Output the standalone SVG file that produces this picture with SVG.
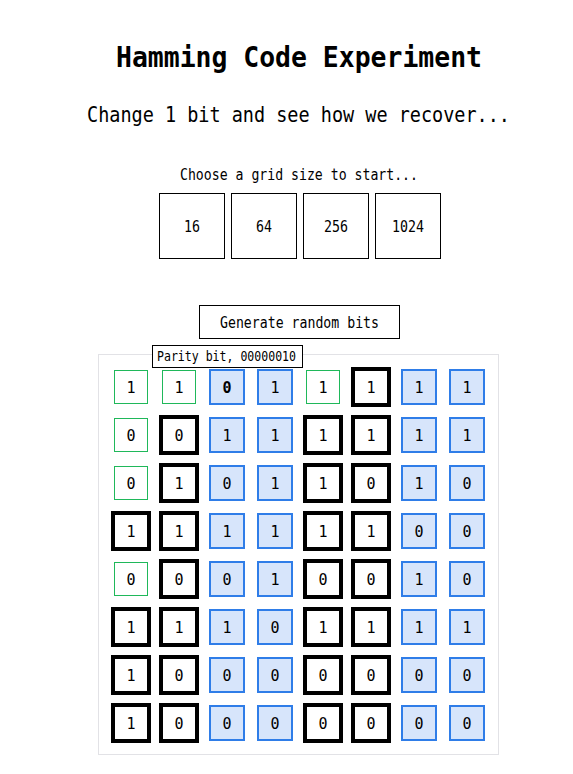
<svg xmlns="http://www.w3.org/2000/svg" width="573" height="774" viewBox="0 0 573 774">
<style>
text{font-family:"DejaVu Sans Mono","Liberation Mono",monospace;fill:#000;text-anchor:middle}
.btn{fill:#fff;stroke:#000;stroke-width:1}
.k{fill:#fff;stroke:#000;stroke-width:4}
.b{fill:#d7e5fb;stroke:#2f7de8;stroke-width:2}
.g{fill:#fff;stroke:#1fb85a;stroke-width:1}
.c{font-size:15px}
.s{font-size:15px}
</style>
<rect width="573" height="774" fill="#fff"/>
<g id="title"><text x="299" y="67" font-size="28" font-weight="bold" textLength="366" lengthAdjust="spacingAndGlyphs">Hamming Code Experiment</text></g>
<g id="subtitle"><text x="298.5" y="122" font-size="21" textLength="423" lengthAdjust="spacingAndGlyphs">Change 1 bit and see how we recover...</text></g>
<g id="prompt"><text class="s" x="299" y="180" textLength="238" lengthAdjust="spacingAndGlyphs">Choose a grid size to start...</text></g>
<g id="size16"><rect class="btn" x="159.5" y="193.5" width="65" height="65"/><text class="s" x="192" y="231.5" textLength="16" lengthAdjust="spacingAndGlyphs">16</text></g>
<g id="size64"><rect class="btn" x="231.5" y="193.5" width="65" height="65"/><text class="s" x="264" y="231.5" textLength="16" lengthAdjust="spacingAndGlyphs">64</text></g>
<g id="size256"><rect class="btn" x="303.5" y="193.5" width="65" height="65"/><text class="s" x="336" y="231.5" textLength="24" lengthAdjust="spacingAndGlyphs">256</text></g>
<g id="size1024"><rect class="btn" x="375.5" y="193.5" width="65" height="65"/><text class="s" x="408" y="231.5" textLength="32" lengthAdjust="spacingAndGlyphs">1024</text></g>
<g id="generate"><rect class="btn" x="199.5" y="305.5" width="200" height="33"/><text class="s" x="299.5" y="327.5" textLength="159" lengthAdjust="spacingAndGlyphs">Generate random bits</text></g>
<g id="panel"><rect x="98.5" y="354.5" width="400" height="400" fill="#fff" stroke="#e2e2e6" stroke-width="1"/></g>
<g id="grid">
<g id="r1c1"><rect class="g" x="114.5" y="370.5" width="33" height="33"/><text class="c" x="131" y="392.5">1</text></g>
<g id="r1c2"><rect class="g" x="162.5" y="370.5" width="33" height="33"/><text class="c" x="179" y="392.5">1</text></g>
<g id="r1c3"><rect class="b" x="210" y="370" width="34" height="34"/><text class="c" x="227" y="392.5" font-weight="bold">0</text></g>
<g id="r1c4"><rect class="b" x="258" y="370" width="34" height="34"/><text class="c" x="275" y="392.5">1</text></g>
<g id="r1c5"><rect class="g" x="306.5" y="370.5" width="33" height="33"/><text class="c" x="323" y="392.5">1</text></g>
<g id="r1c6"><rect class="k" x="353" y="369" width="36" height="36"/><text class="c" x="371" y="392.5">1</text></g>
<g id="r1c7"><rect class="b" x="402" y="370" width="34" height="34"/><text class="c" x="419" y="392.5">1</text></g>
<g id="r1c8"><rect class="b" x="450" y="370" width="34" height="34"/><text class="c" x="467" y="392.5">1</text></g>

<g id="r2c1"><rect class="g" x="114.5" y="418.5" width="33" height="33"/><text class="c" x="131" y="440.5">0</text></g>
<g id="r2c2"><rect class="k" x="161" y="417" width="36" height="36"/><text class="c" x="179" y="440.5">0</text></g>
<g id="r2c3"><rect class="b" x="210" y="418" width="34" height="34"/><text class="c" x="227" y="440.5">1</text></g>
<g id="r2c4"><rect class="b" x="258" y="418" width="34" height="34"/><text class="c" x="275" y="440.5">1</text></g>
<g id="r2c5"><rect class="k" x="305" y="417" width="36" height="36"/><text class="c" x="323" y="440.5">1</text></g>
<g id="r2c6"><rect class="k" x="353" y="417" width="36" height="36"/><text class="c" x="371" y="440.5">1</text></g>
<g id="r2c7"><rect class="b" x="402" y="418" width="34" height="34"/><text class="c" x="419" y="440.5">1</text></g>
<g id="r2c8"><rect class="b" x="450" y="418" width="34" height="34"/><text class="c" x="467" y="440.5">1</text></g>

<g id="r3c1"><rect class="g" x="114.5" y="466.5" width="33" height="33"/><text class="c" x="131" y="488.5">0</text></g>
<g id="r3c2"><rect class="k" x="161" y="465" width="36" height="36"/><text class="c" x="179" y="488.5">1</text></g>
<g id="r3c3"><rect class="b" x="210" y="466" width="34" height="34"/><text class="c" x="227" y="488.5">0</text></g>
<g id="r3c4"><rect class="b" x="258" y="466" width="34" height="34"/><text class="c" x="275" y="488.5">1</text></g>
<g id="r3c5"><rect class="k" x="305" y="465" width="36" height="36"/><text class="c" x="323" y="488.5">1</text></g>
<g id="r3c6"><rect class="k" x="353" y="465" width="36" height="36"/><text class="c" x="371" y="488.5">0</text></g>
<g id="r3c7"><rect class="b" x="402" y="466" width="34" height="34"/><text class="c" x="419" y="488.5">1</text></g>
<g id="r3c8"><rect class="b" x="450" y="466" width="34" height="34"/><text class="c" x="467" y="488.5">0</text></g>

<g id="r4c1"><rect class="k" x="113" y="513" width="36" height="36"/><text class="c" x="131" y="536.5">1</text></g>
<g id="r4c2"><rect class="k" x="161" y="513" width="36" height="36"/><text class="c" x="179" y="536.5">1</text></g>
<g id="r4c3"><rect class="b" x="210" y="514" width="34" height="34"/><text class="c" x="227" y="536.5">1</text></g>
<g id="r4c4"><rect class="b" x="258" y="514" width="34" height="34"/><text class="c" x="275" y="536.5">1</text></g>
<g id="r4c5"><rect class="k" x="305" y="513" width="36" height="36"/><text class="c" x="323" y="536.5">1</text></g>
<g id="r4c6"><rect class="k" x="353" y="513" width="36" height="36"/><text class="c" x="371" y="536.5">1</text></g>
<g id="r4c7"><rect class="b" x="402" y="514" width="34" height="34"/><text class="c" x="419" y="536.5">0</text></g>
<g id="r4c8"><rect class="b" x="450" y="514" width="34" height="34"/><text class="c" x="467" y="536.5">0</text></g>

<g id="r5c1"><rect class="g" x="114.5" y="562.5" width="33" height="33"/><text class="c" x="131" y="584.5">0</text></g>
<g id="r5c2"><rect class="k" x="161" y="561" width="36" height="36"/><text class="c" x="179" y="584.5">0</text></g>
<g id="r5c3"><rect class="b" x="210" y="562" width="34" height="34"/><text class="c" x="227" y="584.5">0</text></g>
<g id="r5c4"><rect class="b" x="258" y="562" width="34" height="34"/><text class="c" x="275" y="584.5">1</text></g>
<g id="r5c5"><rect class="k" x="305" y="561" width="36" height="36"/><text class="c" x="323" y="584.5">0</text></g>
<g id="r5c6"><rect class="k" x="353" y="561" width="36" height="36"/><text class="c" x="371" y="584.5">0</text></g>
<g id="r5c7"><rect class="b" x="402" y="562" width="34" height="34"/><text class="c" x="419" y="584.5">1</text></g>
<g id="r5c8"><rect class="b" x="450" y="562" width="34" height="34"/><text class="c" x="467" y="584.5">0</text></g>

<g id="r6c1"><rect class="k" x="113" y="609" width="36" height="36"/><text class="c" x="131" y="632.5">1</text></g>
<g id="r6c2"><rect class="k" x="161" y="609" width="36" height="36"/><text class="c" x="179" y="632.5">1</text></g>
<g id="r6c3"><rect class="b" x="210" y="610" width="34" height="34"/><text class="c" x="227" y="632.5">1</text></g>
<g id="r6c4"><rect class="b" x="258" y="610" width="34" height="34"/><text class="c" x="275" y="632.5">0</text></g>
<g id="r6c5"><rect class="k" x="305" y="609" width="36" height="36"/><text class="c" x="323" y="632.5">1</text></g>
<g id="r6c6"><rect class="k" x="353" y="609" width="36" height="36"/><text class="c" x="371" y="632.5">1</text></g>
<g id="r6c7"><rect class="b" x="402" y="610" width="34" height="34"/><text class="c" x="419" y="632.5">1</text></g>
<g id="r6c8"><rect class="b" x="450" y="610" width="34" height="34"/><text class="c" x="467" y="632.5">1</text></g>

<g id="r7c1"><rect class="k" x="113" y="657" width="36" height="36"/><text class="c" x="131" y="680.5">1</text></g>
<g id="r7c2"><rect class="k" x="161" y="657" width="36" height="36"/><text class="c" x="179" y="680.5">0</text></g>
<g id="r7c3"><rect class="b" x="210" y="658" width="34" height="34"/><text class="c" x="227" y="680.5">0</text></g>
<g id="r7c4"><rect class="b" x="258" y="658" width="34" height="34"/><text class="c" x="275" y="680.5">0</text></g>
<g id="r7c5"><rect class="k" x="305" y="657" width="36" height="36"/><text class="c" x="323" y="680.5">0</text></g>
<g id="r7c6"><rect class="k" x="353" y="657" width="36" height="36"/><text class="c" x="371" y="680.5">0</text></g>
<g id="r7c7"><rect class="b" x="402" y="658" width="34" height="34"/><text class="c" x="419" y="680.5">0</text></g>
<g id="r7c8"><rect class="b" x="450" y="658" width="34" height="34"/><text class="c" x="467" y="680.5">0</text></g>

<g id="r8c1"><rect class="k" x="113" y="705" width="36" height="36"/><text class="c" x="131" y="728.5">1</text></g>
<g id="r8c2"><rect class="k" x="161" y="705" width="36" height="36"/><text class="c" x="179" y="728.5">0</text></g>
<g id="r8c3"><rect class="b" x="210" y="706" width="34" height="34"/><text class="c" x="227" y="728.5">0</text></g>
<g id="r8c4"><rect class="b" x="258" y="706" width="34" height="34"/><text class="c" x="275" y="728.5">0</text></g>
<g id="r8c5"><rect class="k" x="305" y="705" width="36" height="36"/><text class="c" x="323" y="728.5">0</text></g>
<g id="r8c6"><rect class="k" x="353" y="705" width="36" height="36"/><text class="c" x="371" y="728.5">0</text></g>
<g id="r8c7"><rect class="b" x="402" y="706" width="34" height="34"/><text class="c" x="419" y="728.5">0</text></g>
<g id="r8c8"><rect class="b" x="450" y="706" width="34" height="34"/><text class="c" x="467" y="728.5">0</text></g>
</g>
<g id="tooltip"><rect x="152.5" y="345.5" width="150" height="22" fill="#fff" stroke="#000" stroke-width="1"/><text x="226.5" y="361" font-size="13.5" textLength="139" lengthAdjust="spacingAndGlyphs">Parity bit, 00000010</text></g>
</svg>
